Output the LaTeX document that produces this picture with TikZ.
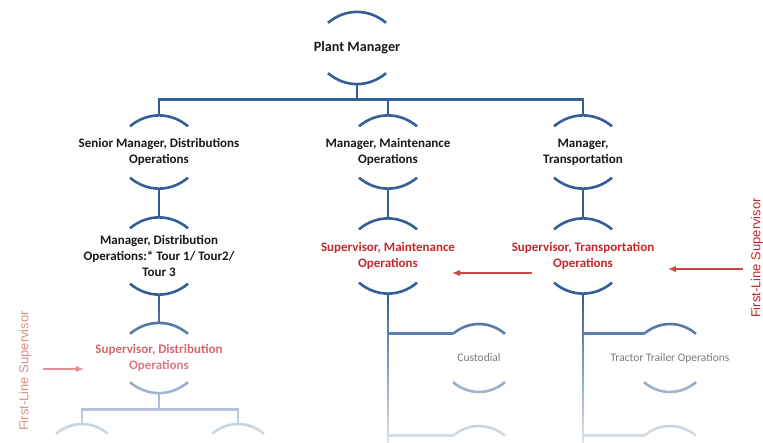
\documentclass[tikz,border=0pt]{standalone}
\usepackage{fontspec}
\setmainfont{Carlito}
\newfontfamily\labelfont{Liberation Sans}
\usetikzlibrary{fadings,arrows.meta}

\definecolor{orgblue}{RGB}{52,94,150}
\definecolor{supred}{RGB}{196,38,44}
\definecolor{arrowred}{RGB}{200,72,72}
\definecolor{palered}{RGB}{226,138,138}
\definecolor{greytext}{RGB}{50,50,50}

\tikzfading[name=fadedown, top color=transparent!100, bottom color=transparent!0]

\tikzset{
  post/.style={minimum height=#1, align=center, inner sep=0pt,
    font=\bfseries\fontsize{13}{16}\selectfont, text=black!90},
  post/.default=73pt,
  crew/.style={minimum height=70pt, align=center, inner sep=0pt,
    font=\fontsize{11.5}{14}\selectfont, text=greytext},
  conn/.style={draw=orgblue, line width=2.8pt},
  arcline/.style={draw=orgblue, line width=2.6pt},
  fls/.style={rotate=90, inner sep=0pt, font=\labelfont\fontsize{13}{15}\selectfont},
  flsarrow/.style={->, draw=arrowred, line width=1.3pt}
}

% the two arcs round a post
\newcommand{\orgarcs}[2][29pt]{%
  \draw[arcline] ([xshift=-#1,yshift=-11pt]#2.north) to[bend left=40] ([xshift=#1,yshift=-11pt]#2.north);
  \draw[arcline] ([xshift=-#1,yshift=11pt]#2.south) to[bend right=40] ([xshift=#1,yshift=11pt]#2.south);}

\begin{document}
\begin{tikzpicture}[x=1pt, y=1pt, >={Latex[length=8pt,width=6.5pt]}]
\useasboundingbox (0,0) rectangle (763,-442);
\clip (0,0) rectangle (763,-442);

% top of the chart
\node[post=72pt, font=\bfseries\fontsize{14.2}{16}\selectfont] (pm) at (357,-48) {Plant Manager};

% managers
\node[post] (sm) at (159,-152) {Senior Manager, Distributions\\Operations};
\node[post] (mm) at (388,-152) {Manager, Maintenance\\Operations};
\node[post] (mt) at (583,-152) {Manager,\\Transportation};

% next level
\node[post=77pt] (md) at (159,-256) {Manager, Distribution\\Operations:* Tour 1/ Tour2/\\Tour 3};
\node[post=75pt, text=supred] (sv) at (388,-256) {Supervisor, Maintenance\\Operations};
\node[post=75pt, text=supred] (stp) at (583,-256) {Supervisor, Transportation\\Operations};
\node[post=70pt, text=supred] (sd) at (159,-358) {Supervisor, Distribution\\Operations};

% crews
\node[crew] (cu) at (479,-358) {Custodial};
\node[crew] (tt) at (670,-358) {Tractor Trailer Operations};
\node[crew] (cux) at (479,-460) {};
\node[crew] (ttx) at (670,-460) {};
\node[crew] (da) at (82,-458) {};
\node[crew] (db) at (238,-458) {};

% arcs
\foreach \n in {pm,sm,mm,mt,md,sv,stp,sd}
  \orgarcs{\n};
\foreach \n in {cu,tt,cux,ttx,da,db}
  \orgarcs[26pt]{\n};

% connectors
\foreach \n in {sm,mm,mt}
  \draw[conn] (pm.south) -- +(0,-15) -| (\n.north);
\foreach \a/\b in {sm/md, mm/sv, mt/stp, md/sd}
  \draw[conn] (\a.south) -- (\b.north);
\foreach \n in {da,db}
  \draw[conn] (sd.south) -- +(0,-16) -| (\n.north);
\draw[conn] (sv.south) -- (sv.south |- cux.south);
\draw[conn] (stp.south) -- (stp.south |- ttx.south);
\foreach \a/\b in {sv/cu, sv/cux, stp/tt, stp/ttx}
  \draw[conn] (\a.south) |- ([xshift=-26pt,yshift=-11pt]\b.north);

% arrow on the left
\coordinate (aLs) at (43,-369);
\coordinate (aLe) at (84,-369);
\draw[flsarrow] (aLs) -- (aLe);

% fade the lower part
\fill[white, path fading=fadedown] (0,-296) rectangle (763,-472);

% first-line supervisor, left and right
\node[fls, text=palered] (flsL) at (25,-371) {First-Line Supervisor};
\node[fls, text=supred] (flsR) at (757,-258) {First-Line Supervisor};
\coordinate (aRs) at (743,-269);
\coordinate (aRe) at (668,-269);
\draw[flsarrow] (aRs) -- (aRe);
\coordinate (aMs) at (532,-273);
\coordinate (aMe) at (452,-273);
\draw[flsarrow] (aMs) -- (aMe);
\end{tikzpicture}
\end{document}
